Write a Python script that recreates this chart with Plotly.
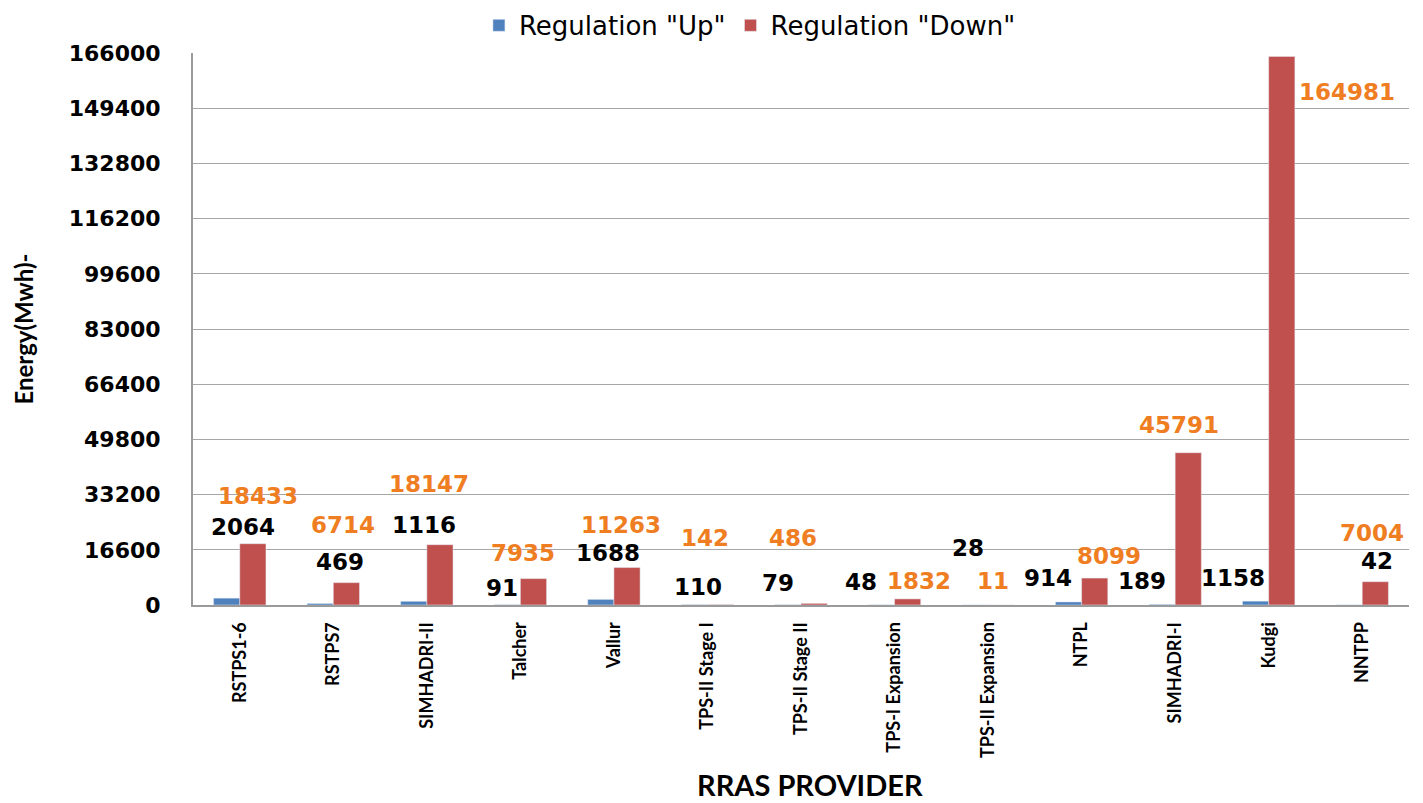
import plotly.graph_objects as go

categories = ["RSTPS1-6", "RSTPS7", "SIMHADRI-II", "Talcher", "Vallur", "TPS-II Stage I",
              "TPS-II Stage II", "TPS-I Expansion", "TPS-II Expansion", "NTPL", "SIMHADRI-I",
              "Kudgi", "NNTPP"]
reg_up = [2064, 469, 1116, 91, 1688, 110, 79, 48, 28, 914, 189, 1158, 42]
reg_down = [18433, 6714, 18147, 7935, 11263, 142, 486, 1832, 11, 8099, 45791, 164981, 7004]
y_ticks = [0, 16600, 33200, 49800, 66400, 83000, 99600, 116200, 132800, 149400, 166000]

# label placement offsets (pixels, style only)
up_dx = [3, 7, -3, -18, -6, -9, -23, -34, -20, -34, -33, -36, 15]
up_dy = [71, 41, 76, 17, 46, 18, 22, 23, 57, 24, 23, 23, 44]
down_dx = [18, 10, 2, 3, 7, -2, -8, 24, 5, 27, 4, 78, 10]
down_dy = [48, 58, 61, 26, 43, 67, 65, 18, 24, 22, 28, -36, 49]

BLUE = "#4F81BD"
RED = "#C0504D"
ORANGE = "#EF7D22"

fig = go.Figure()
fig.add_trace(go.Bar(x=categories, y=reg_up, name='Regulation "Up"', marker_color=BLUE))
fig.add_trace(go.Bar(x=categories, y=reg_down, name='Regulation "Down"', marker_color=RED))

label_font = dict(family="DejaVu Sans", size=23, weight="bold")
for i, c in enumerate(categories):
    fig.add_annotation(x=c, y=reg_up[i], text=str(reg_up[i]), showarrow=False,
                       xshift=up_dx[i], yshift=up_dy[i], yanchor="middle",
                       font=dict(**label_font, color="#000000"))
    fig.add_annotation(x=c, y=reg_down[i], text=str(reg_down[i]), showarrow=False,
                       xshift=down_dx[i], yshift=down_dy[i], yanchor="middle",
                       font=dict(**label_font, color=ORANGE))

fig.add_annotation(xref="paper", yref="paper", x=0.507, y=-0.325, text="RRAS PROVIDER",
                   showarrow=False, yanchor="middle",
                   font=dict(family="Lato", size=29, weight="bold", color="#000000"))

fig.update_layout(
    width=1415, height=795,
    margin=dict(l=185, r=14, t=45, b=198, autoexpand=False),
    paper_bgcolor="white", plot_bgcolor="white",
    barmode="group", bargap=0.44, bargroupgap=0,
    legend=dict(orientation="h", x=0.458, xanchor="center", y=1.05, yanchor="middle",
                font=dict(family="DejaVu Sans", size=26, color="#000000"),
                itemwidth=30, tracegroupgap=0),
    showlegend=True,
)
fig.update_xaxes(
    showline=True, linecolor="#9A9A9A", linewidth=2, ticks="",
    tickangle=-90, tickfont=dict(family="Lato", size=18, weight="bold", color="#000000"),
    ticklabelstandoff=8,
)
fig.update_yaxes(
    range=[0, 166000], tickvals=y_ticks, ticktext=[str(v) for v in y_ticks],
    showgrid=True, gridcolor="#A6A6A6", gridwidth=1,
    showline=True, linecolor="#9A9A9A", linewidth=2, ticks="",
    tickfont=dict(family="DejaVu Sans", size=22, weight="bold", color="#000000"),
    ticklabelstandoff=26, zeroline=False,
    title=dict(text="Energy(Mwh)-", font=dict(family="Lato", size=24, weight="bold", color="#000000"),
               standoff=28),
)

fig.write_html("out.html")
